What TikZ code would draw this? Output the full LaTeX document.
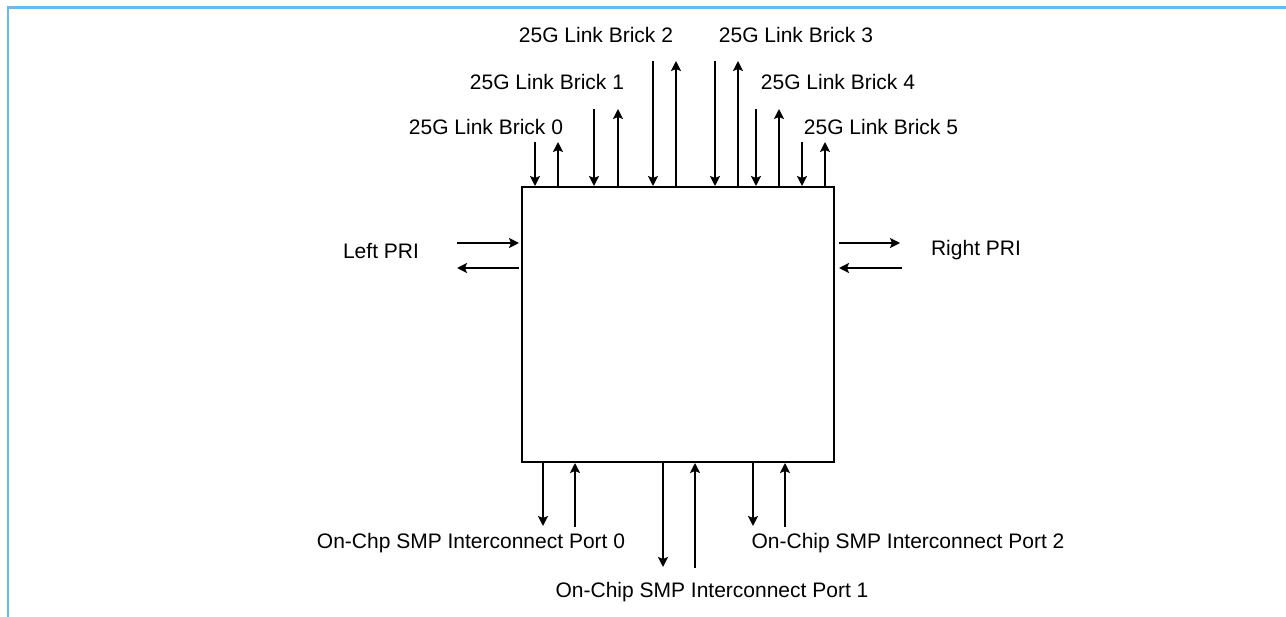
\documentclass[tikz,border=0pt]{standalone}
\usepackage{fontspec}
\setmainfont{Liberation Sans}
\usepackage{xcolor}
\usetikzlibrary{arrows.meta,positioning}
\definecolor{frameblue}{HTML}{66BBF5}

\begin{document}
\begin{tikzpicture}[x=1pt,y=-1pt,
 chipbox/.style={draw,line width=2pt,minimum width=312pt,minimum height=275pt,inner sep=0pt},
 lbl/.style={font=\fontsize{21}{25}\selectfont,inner sep=0pt},
 arr/.style={-{Stealth[length=10pt,width=10pt,inset=2pt]},line width=1.8pt},
 frameline/.style={frameblue,line width=2.5pt}
]
\useasboundingbox (0,0) rectangle (1286,617);
\draw[frameline] (8,617) -- (8,7.5) -- (1286,7.5);
\node[chipbox] (core) at (678,324.5) {};
% link bricks on top
\node[lbl] (b0) at (486,127) {25G Link Brick 0};
\node[lbl] (b1) at (547,82) {25G Link Brick 1};
\node[lbl] (b2) at (596,35) {25G Link Brick 2};
\node[lbl] (b3) at (796,35) {25G Link Brick 3};
\node[lbl] (b4) at (838,82) {25G Link Brick 4};
\node[lbl] (b5) at (881,127) {25G Link Brick 5};
\coordinate (b0in) at (535,142); \coordinate (b0out) at (558,142);
\coordinate (b1in) at (594,109); \coordinate (b1out) at (618,109);
\coordinate (b2in) at (653,61); \coordinate (b2out) at (676,61);
\coordinate (b3in) at (715,61); \coordinate (b3out) at (738,61);
\coordinate (b4in) at (756,109); \coordinate (b4out) at (779,109);
\coordinate (b5in) at (802,142); \coordinate (b5out) at (825,142);
\draw[arr] (b0in)--(b0in |- core.north); \draw[arr] (b0out |- core.north)--(b0out);
\draw[arr] (b1in)--(b1in |- core.north); \draw[arr] (b1out |- core.north)--(b1out);
\draw[arr] (b2in)--(b2in |- core.north); \draw[arr] (b2out |- core.north)--(b2out);
\draw[arr] (b3in)--(b3in |- core.north); \draw[arr] (b3out |- core.north)--(b3out);
\draw[arr] (b4in)--(b4in |- core.north); \draw[arr] (b4out |- core.north)--(b4out);
\draw[arr] (b5in)--(b5in |- core.north); \draw[arr] (b5out |- core.north)--(b5out);
% PRI
\node[lbl] (lpri) at (381,251) {Left PRI};
\node[lbl] (rpri) at (976,250) {Right PRI};
\coordinate (lprin) at (457,243); \coordinate (lpriout) at (457,268);
\coordinate (rpriout) at (900,243); \coordinate (rprin) at (902,268);
\draw[arr,shorten >=2pt] (lprin)--(lprin -| core.west);
\draw[arr,shorten <=2pt] (lpriout -| core.west)--(lpriout);
\draw[arr,shorten <=4pt] (rpriout -| core.east)--(rpriout);
\draw[arr,shorten >=4pt] (rprin)--(rprin -| core.east);
% SMP ports below
\node[lbl] (p0) at (471,543) {On-Chp SMP Interconnect Port 0};
\node[lbl] (p1) at (712,592) {On-Chip SMP Interconnect Port 1};
\node[lbl] (p2) at (908,543) {On-Chip SMP Interconnect Port 2};
\coordinate (p0out) at (543,526); \coordinate (p0in) at (575,527);
\coordinate (p1out) at (663,567); \coordinate (p1in) at (695,568);
\coordinate (p2out) at (753,526); \coordinate (p2in) at (785,527);
\draw[arr] (p0out |- core.south)--(p0out); \draw[arr] (p0in)--(p0in |- core.south);
\draw[arr] (p1out |- core.south)--(p1out); \draw[arr] (p1in)--(p1in |- core.south);
\draw[arr] (p2out |- core.south)--(p2out); \draw[arr] (p2in)--(p2in |- core.south);
\end{tikzpicture}
\end{document}
